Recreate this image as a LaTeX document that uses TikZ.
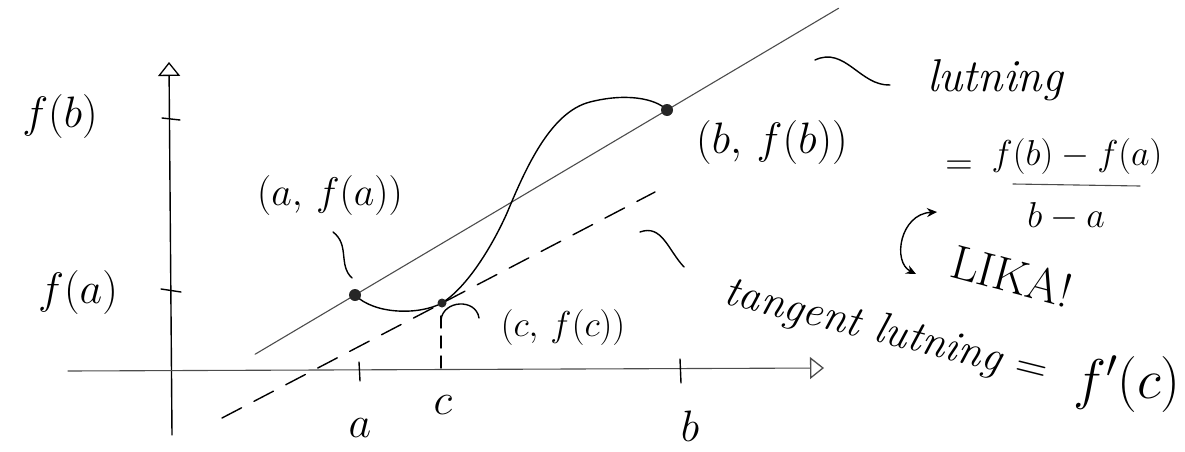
\RequirePackage{fix-cm}
\documentclass[tikz,border=0pt]{standalone}
\usetikzlibrary{arrows.meta,calc}
\begin{document}
\begin{tikzpicture}[x=1pt,y=-1pt,
  pen/.style={line width=1.4pt, line cap=round, black},
  thinpen/.style={line width=1.1pt, line cap=round, black!70},
  dotmark/.style={circle, fill=black!85, inner sep=0pt, minimum size=12pt},
  lbl/.style={inner sep=0pt, font=\fontsize{#1}{#1}\selectfont},
  lbl/.default=40,
  axisarrow/.style={-{Triangle[open,width=22pt,length=14pt,line width=1.3pt]}},
  dblarrow/.style={{Stealth[length=10pt,width=9pt]}-{Stealth[length=10pt,width=9pt]}}
]
\useasboundingbox (0,0) rectangle (1185,452);

% axes
\coordinate (ybot) at (172,435);
\coordinate (ytop) at (169,62);
\coordinate (xl) at (68,371);
\coordinate (xr) at (824,368);
\draw[pen, axisarrow] (ybot) -- (ytop);
\draw[thinpen, axisarrow] (xl) -- (xr);

% ticks
\coordinate (tb1) at (162,118); \coordinate (tb2) at (180,120);
\coordinate (ta1) at (161,289); \coordinate (ta2) at (181,292);
\coordinate (xa1) at (359,362); \coordinate (xa2) at (360,381);
\coordinate (xb1) at (680,359); \coordinate (xb2) at (681,383);
\draw[pen] (tb1) -- (tb2);
\draw[pen] (ta1) -- (ta2);
\draw[pen] (xa1) -- (xa2);
\draw[pen] (xb1) -- (xb2);

% key points
\coordinate (pa) at (355,295);
\coordinate (pc) at (442,303);
\coordinate (pb) at (667,110);

% secant line
\draw[thinpen] ($(pa)!-0.32!(pb)$) -- ($(pa)!1.55!(pb)$);

% tangent line (dashed)
\coordinate (t1) at (222,418);
\coordinate (t2) at (655,192);
\draw[pen, dash pattern=on 22pt off 14pt] (t1) -- (t2);

% vertical dashed from c
\coordinate (cx) at (441,371);
\draw[pen, dash pattern=on 12pt off 8pt] ($(pc)+(-1,13)$) -- (cx);

% the function curve
\draw[pen] (pa) .. controls (375,315) and (420,315) .. (pc)
  .. controls (470,285) and (495,240) .. (507,213)
  .. controls (525,170) and (550,112) .. (590,102)
  .. controls (625,93) and (655,98) .. (pb);

% dots
\node[dotmark] (da) at (pa) {};
\node[dotmark, minimum size=9pt] (dc) at (pc) {};
\node[dotmark] (db) at (pb) {};

% axis labels
\node[lbl=44] (fb) at (60,117) {$f(b)$};
\node[lbl=44] (fa) at (78,292) {$f(a)$};
\node[lbl=44] (la) at (360,428) {$a$};
\node[lbl=44] (lc) at (443,405) {$c$};
\node[lbl=44] (lb) at (690,426) {$b$};

% point labels
\node[lbl=40] (afa) at (330,195) {$(a,\,f(a))$};
\node[lbl=36] (cfc) at (563,327) {$(c,\,f(c))$};
\node[lbl=44] (bfb) at (772,143) {$(b,\,f(b))$};

% leader squiggles
\coordinate (sa1) at (333,232); \coordinate (sa2) at (352,278);
\draw[pen] (sa1) .. controls (350,245) and (338,265) .. (sa2);
\coordinate (sc1) at (441,320); \coordinate (sc2) at (479,318);
\draw[pen] (sc1) .. controls (443,300) and (476,298) .. (sc2);
\coordinate (ss1) at (815,60); \coordinate (ss2) at (890,85);
\draw[pen] (ss1) .. controls (845,46) and (860,86) .. (ss2);
\coordinate (st1) at (640,232); \coordinate (st2) at (684,267);
\draw[pen] (st1) .. controls (662,224) and (668,250) .. (st2);

% slope formula
\node[lbl=46] (lut) at (995,80) {\itshape lutning};
\node[lbl=38] (eq) at (959,168) {$=$};
\node[lbl=36] (num) at (1077,156) {$f(b)-f(a)$};
\coordinate (fr1) at (1013,184); \coordinate (fr2) at (1140,186);
\draw[thinpen] (fr1) -- (fr2);
\node[lbl=36] (den) at (1066,216) {$b-a$};

% LIKA with double arrow
\coordinate (ar1) at (937,212); \coordinate (ar2) at (916,274);
\draw[pen, dblarrow] (ar1) .. controls (900,214) and (892,262) .. (ar2);
\node[lbl=48, rotate=-15] (lika) at (1012,276) {LIKA!};

% tangent slope
\node[lbl=44, rotate=-14] (tl) at (886,333) {\itshape tangent lutning $=$};
\node[lbl=56] (fpc) at (1127,384) {$f'(c)$};
\end{tikzpicture}
\end{document}
